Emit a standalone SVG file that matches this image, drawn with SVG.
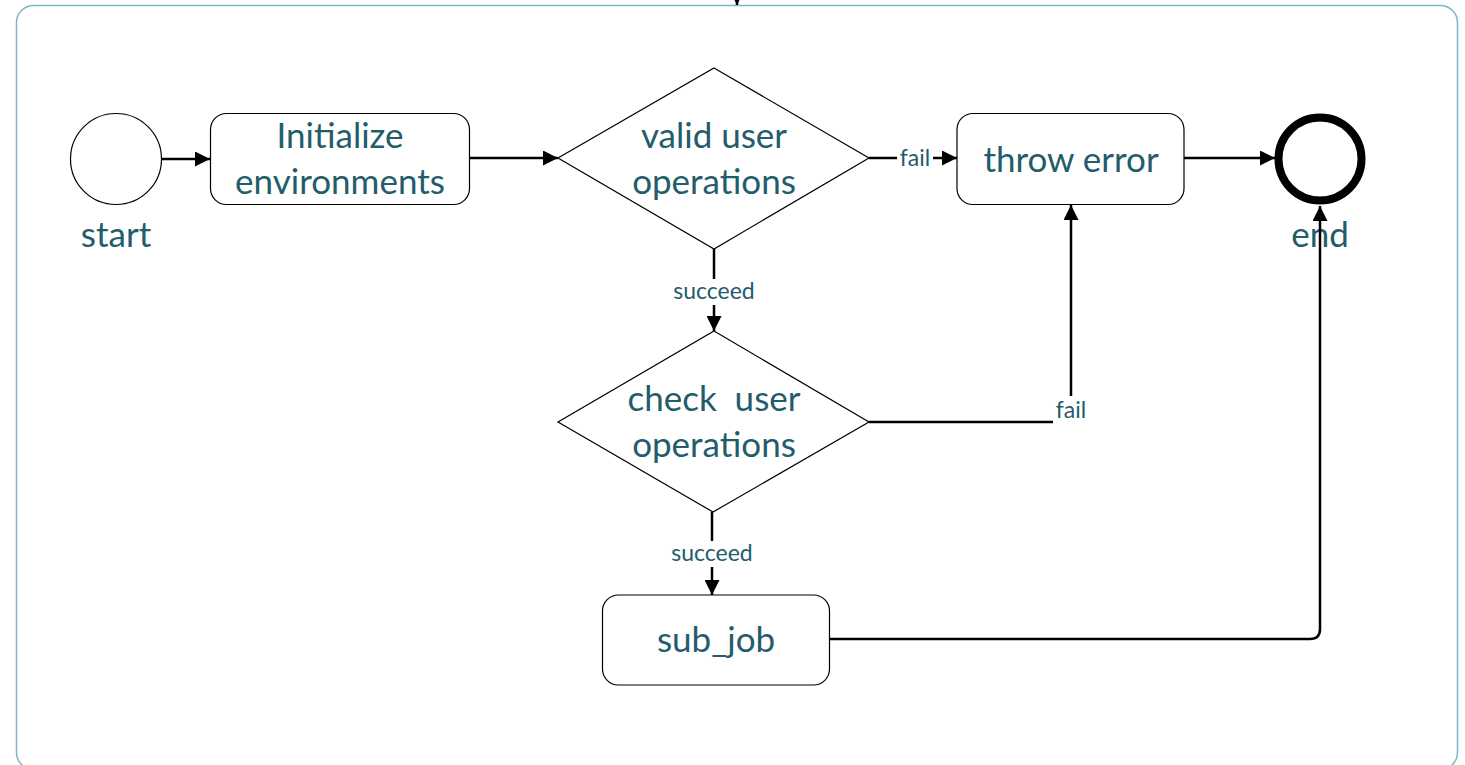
<svg xmlns="http://www.w3.org/2000/svg" width="1465" height="765" viewBox="0 0 1465 765">
<defs>
<style>
.box{fill:#fff;stroke:#000;stroke-width:1.2}
.t{font-family:Lato,"Liberation Sans",sans-serif;font-size:35px;fill:#235c6b;text-anchor:middle}
.lb{font-family:Lato,"Liberation Sans",sans-serif;font-size:23px;fill:#235c6b;text-anchor:middle}
.c{fill:none;stroke:#000;stroke-width:2.5}
</style>
<marker id="ah" viewBox="0 0 10 10" refX="10" refY="5" markerWidth="6" markerHeight="6" markerUnits="strokeWidth" orient="auto">
<path d="M0,0 L10,5 L0,10 z" fill="#000"/>
</marker>
</defs>
<rect x="0" y="0" width="1465" height="765" fill="#fff"/>
<rect id="container" x="16.5" y="5.5" width="1441" height="764" rx="17" fill="none" stroke="#7fb5c6" stroke-width="1.5"/>
<g id="start">
<circle cx="116" cy="159" r="45.5" fill="#fff" stroke="#000" stroke-width="1.2"/>
<text class="t" x="116" y="247">start</text>
</g>
<g id="init">
<rect class="box" x="210.5" y="113.5" width="259" height="91" rx="16"/>
<text class="t" x="340" y="148">Initialize</text>
<text class="t" x="340" y="194">environments</text>
</g>
<g id="valid">
<polygon class="box" points="714,68 869,158 714,249 558,158"/>
<text class="t" x="714" y="148">valid user</text>
<text class="t" x="714" y="194">operations</text>
</g>
<g id="throw">
<rect class="box" x="957" y="113.5" width="227" height="91" rx="16"/>
<text class="t" x="1071" y="172">throw error</text>
</g>
<g id="end">
<circle cx="1320" cy="159" r="41.5" fill="#fff" stroke="#000" stroke-width="8"/>
<text class="t" x="1320" y="247">end</text>
</g>
<g id="check">
<polygon class="box" points="714,331 869,422 713,512 558,422"/>
<text class="t" x="714" y="411" xml:space="preserve">check  user</text>
<text class="t" x="714" y="457">operations</text>
</g>
<g id="subjob">
<rect class="box" x="602.5" y="595" width="227" height="90" rx="16"/>
<text class="t" x="716" y="652">sub_job</text>
</g>
<g id="connectors">
<path class="c" d="M737,-10 L737,5" marker-end="url(#ah)" stroke-width="1.5"/>
<path class="c" d="M161,159 L210,159" marker-end="url(#ah)"/>
<path class="c" d="M470,158 L558,158" marker-end="url(#ah)"/>
<path class="c" d="M869,158 L957,158" marker-end="url(#ah)"/>
<path class="c" d="M1184,158 L1275,158" marker-end="url(#ah)"/>
<path class="c" d="M714,249 L714,331" marker-end="url(#ah)"/>
<path class="c" d="M869,422 L1071,422 L1071,205" marker-end="url(#ah)"/>
<path class="c" d="M712,512 L712,595" marker-end="url(#ah)"/>
<path class="c" d="M830,639 L1310,639 Q1320,639 1320,629 L1320,206" marker-end="url(#ah)"/>
<rect x="897" y="146" width="36" height="24" fill="#fff"/>
<text class="lb" x="915" y="166">fail</text>
<rect x="670" y="279" width="88" height="26" fill="#fff"/>
<text class="lb" x="714" y="299">succeed</text>
<rect x="1053" y="396" width="36" height="28" fill="#fff"/>
<text class="lb" x="1071" y="418">fail</text>
<rect x="668" y="541" width="88" height="26" fill="#fff"/>
<text class="lb" x="712" y="561">succeed</text>
</g>
</svg>
